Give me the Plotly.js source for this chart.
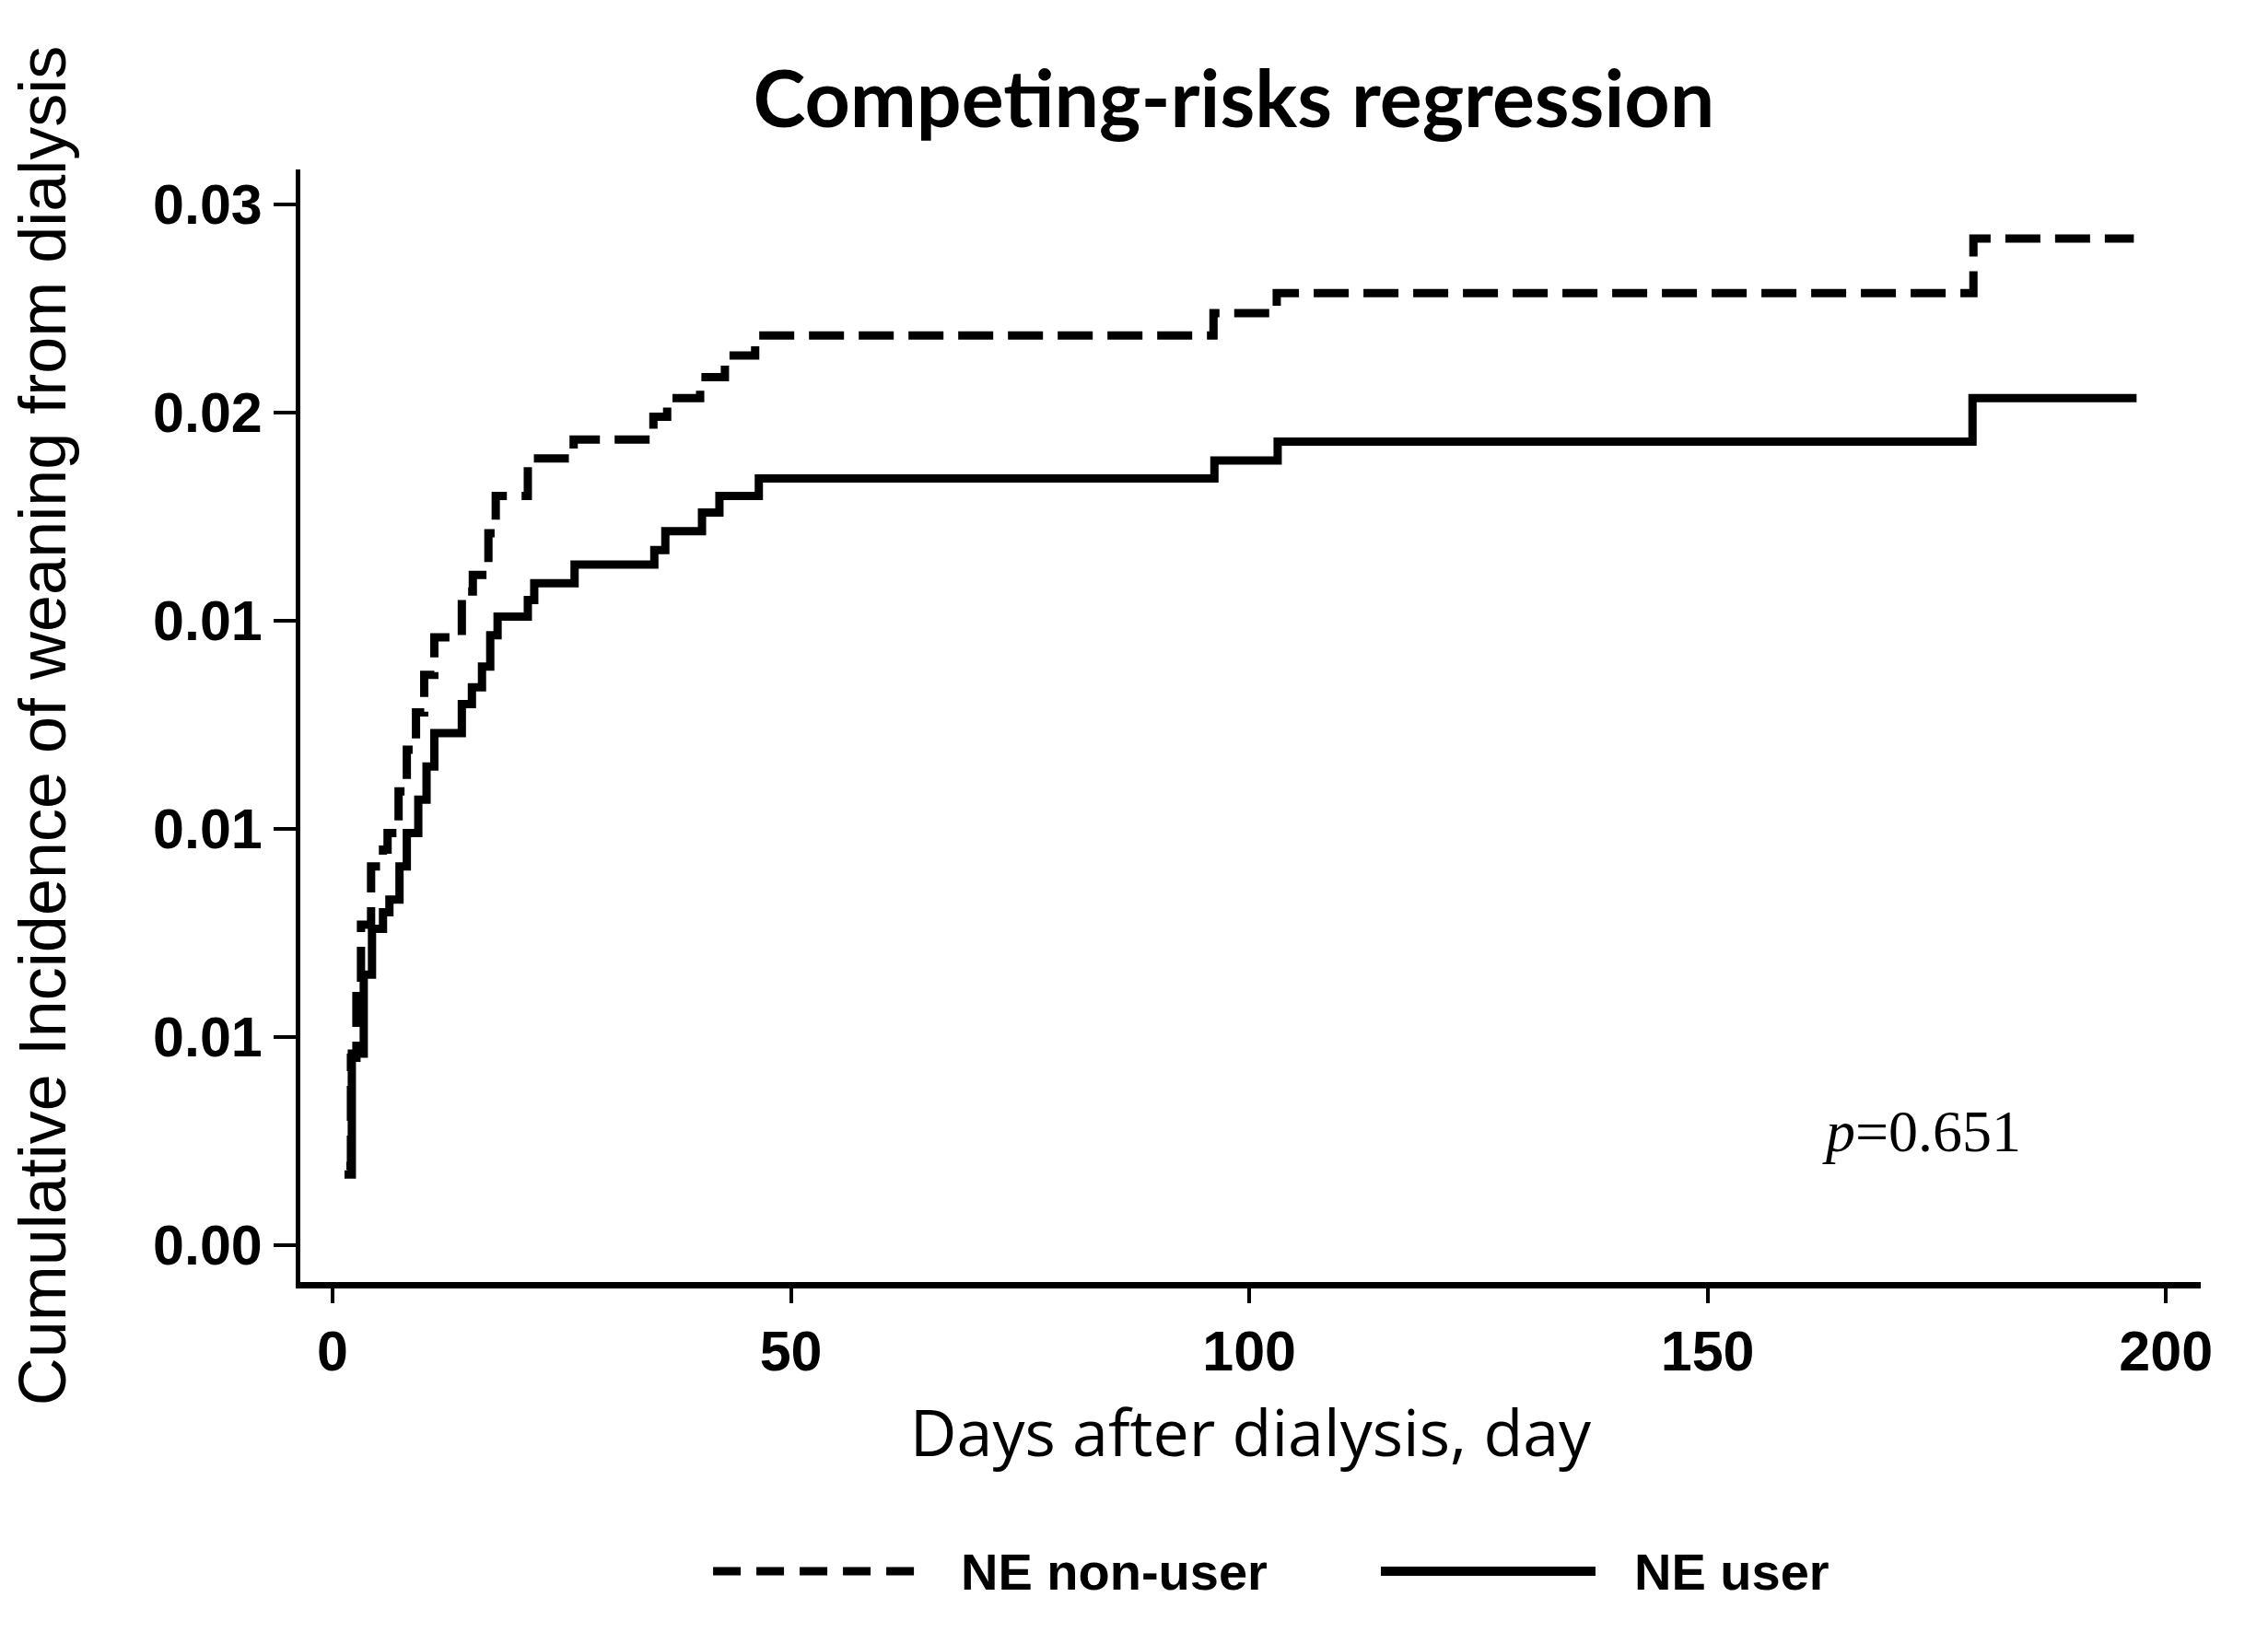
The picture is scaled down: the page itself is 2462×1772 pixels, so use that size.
<!DOCTYPE html>
<html>
<head>
<meta charset="utf-8">
<script src="https://cdn.plot.ly/plotly-3.0.1.min.js"></script>
<style>html,body{margin:0;padding:0;background:#fff;}#chart{width:2462px;height:1772px;}</style>
</head>
<body>
<div id="chart"></div>
<script>
// ---- data ----
const seriesNames = ["NE non-user", "NE user"];

const nonUserDays = [1.5, 2.0, 2.6, 3.1, 4.2, 5.5, 6.0, 7.2, 8.1, 9.1, 10.0, 11.1, 14.1, 15.3, 17.0, 17.8, 21.3, 26.3, 35.0, 36.5, 40.1, 42.8, 46.1, 96.1, 103.0, 179.0, 196.5];
const nonUserCIF  = [0.0019, 0.0045, 0.0063, 0.0077, 0.0091, 0.0095, 0.0099, 0.0109, 0.0119, 0.0128, 0.0137, 0.0146, 0.0157, 0.0161, 0.0171, 0.0180, 0.0189, 0.01935, 0.0199, 0.02035, 0.02085, 0.02137, 0.02185, 0.02239, 0.02287, 0.02418, 0.02418];

const userDays = [1.3, 2.1, 3.4, 4.3, 5.5, 6.2, 7.3, 8.1, 9.35, 10.25, 11.1, 14.1, 15.2, 16.3, 17.2, 18.0, 21.3, 22.0, 26.4, 35.1, 36.3, 40.3, 42.2, 46.5, 96.2, 103.1, 178.9, 196.8];
const userCIF  = [0.0017, 0.0046, 0.0065, 0.0076, 0.0080, 0.0083, 0.0091, 0.0099, 0.0107, 0.0115, 0.0123, 0.0130, 0.0134, 0.0139, 0.01465, 0.0151, 0.0155, 0.0159, 0.01635, 0.0167, 0.01715, 0.0176, 0.0180, 0.01842, 0.01885, 0.0193, 0.02035, 0.02035];

const xTickVals = [0, 50, 100, 150, 200];
const yTickVals = [0, 0.005, 0.01, 0.015, 0.02, 0.025];
const yTickText = ["0.00", "0.01", "0.01", "0.01", "0.02", "0.03"];

const pValueText = "<i>p</i>=0.651";
const pValuePos = {day: 173.3, cif: 0.00274};

// ---- chart ----
const traces = [
  {x: nonUserDays, y: nonUserCIF, name: seriesNames[0], type: "scatter", mode: "lines",
   line: {shape: "hv", color: "#000", width: 9, dash: "38px,16px"}, showlegend: false},
  {x: userDays, y: userCIF, name: seriesNames[1], type: "scatter", mode: "lines",
   line: {shape: "hv", color: "#000", width: 9}, showlegend: false}
];

const tickFont = {family: "Liberation Sans, Arial, sans-serif", size: 61, color: "#000", weight: "bold"};
const legFont = {family: "Liberation Sans, Arial, sans-serif", size: 56, color: "#000", weight: "bold"};
const legY = -0.26;

const layout = {
  width: 2462, height: 1772,
  paper_bgcolor: "#fff", plot_bgcolor: "#fff",
  margin: {l: 326, r: 73, t: 184, b: 380, pad: 0},
  title: {text: "<b>Competing-risks regression</b>", font: {family: "Lato, sans-serif", size: 86, color: "#000"},
          x: 0.544, xref: "container", xanchor: "center", y: 0.939, yref: "container", yanchor: "middle"},
  xaxis: {range: [-3.52, 203.8], tickvals: xTickVals, ticks: "outside", ticklen: 16, tickwidth: 4, tickcolor: "#000",
          showline: true, linewidth: 7, linecolor: "#000", showgrid: false, zeroline: false,
          tickfont: tickFont,
          title: {text: "Days after dialysis, day", font: {family: "Open Sans, sans-serif", size: 70, color: "#000"}, standoff: 34}},
  yaxis: {range: [-0.000885, 0.02584], tickvals: yTickVals, ticktext: yTickText, ticks: "outside", ticklen: 24, tickwidth: 4, tickcolor: "#000",
          showline: true, linewidth: 5, linecolor: "#000", showgrid: false, zeroline: false,
          tickfont: tickFont,
          title: {text: "Cumulative Incidence of weaning from dialysis", font: {family: "Liberation Sans, Arial, sans-serif", size: 72, color: "#000"}, standoff: 72}},
  shapes: [
    {type: "line", xref: "paper", yref: "paper", x0: 0.2172, x1: 0.3277, y0: legY, y1: legY,
     line: {color: "#000", width: 9, dash: "30px,17px"}},
    {type: "line", xref: "paper", yref: "paper", x0: 0.5686, x1: 0.6815, y0: legY, y1: legY,
     line: {color: "#000", width: 10}}
  ],
  annotations: [
    {text: seriesNames[0], xref: "paper", yref: "paper", x: 0.3465, y: legY, xanchor: "left", yanchor: "middle", showarrow: false, font: legFont},
    {text: seriesNames[1], xref: "paper", yref: "paper", x: 0.7010, y: legY, xanchor: "left", yanchor: "middle", showarrow: false, font: legFont},
    {text: pValueText, xref: "x", yref: "y", x: pValuePos.day, y: pValuePos.cif, xanchor: "center", yanchor: "middle", showarrow: false,
     font: {family: "Liberation Serif, serif", size: 64, color: "#000"}}
  ]
};

Plotly.newPlot("chart", traces, layout, {staticPlot: true, displayModeBar: false});
</script>
</body>
</html>
